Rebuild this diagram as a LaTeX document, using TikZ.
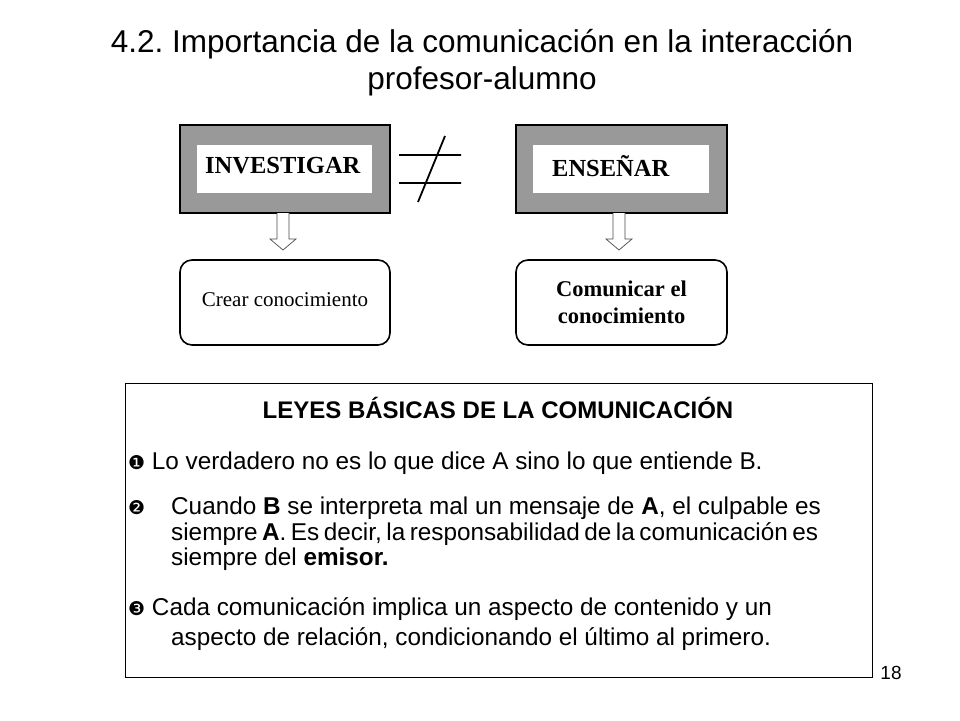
\documentclass[tikz,border=0pt]{standalone}
\usepackage{fontspec}
\setmainfont{Liberation Sans}
\newfontfamily\tnr{Liberation Serif}
\newfontfamily\dv{DejaVu Sans}
\frenchspacing
\begin{document}
\begin{tikzpicture}[x=1pt,y=-1pt,
  outer/.style={draw=black,line width=2.2pt,fill=black!40},
  inner/.style={fill=white},
  rbox/.style={draw=black,line width=1.6pt,rounded corners=12pt},
  hollow/.style={draw=black!70,line width=0.7pt,fill=white},
  lbl/.style={inner sep=0pt,anchor=base west}]
\useasboundingbox (0,0) rectangle (960,720);
\node[align=center,font=\fontsize{31.5}{37}\selectfont] (title) at (482,63) {4.2. Importancia de la comunicación en la interacción\\profesor-alumno};
% boxes
\node[outer,minimum width=210,minimum height=88,inner sep=0] (inv) at (285,169) {};
\node[inner,minimum width=175,minimum height=48,inner sep=0] (invi) at (284.5,169) {};
\node[anchor=west,font=\tnr\bfseries\fontsize{24.5}{28}\selectfont,inner sep=0] (invt) at (205,166) {INVESTIGAR};
\node[outer,minimum width=211,minimum height=88,inner sep=0] (ens) at (621.5,169) {};
\node[inner,minimum width=176,minimum height=48,inner sep=0] (ensi) at (621,169) {};
\node[anchor=west,font=\tnr\bfseries\fontsize{24.5}{28}\selectfont,inner sep=0] (enst) at (552,166) {ENSEÑAR};
% not equal
\coordinate (n1) at (399,155); \coordinate (n2) at (461,155);
\coordinate (n3) at (399,183); \coordinate (n4) at (461,183);
\coordinate (n5) at (418,202); \coordinate (n6) at (445,136);
\draw[line width=1.8pt] (n1)--(n2) (n3)--(n4) (n5)--(n6);
% hollow arrows
\draw[hollow] (277,213)--(277,239)--(270,239)--(283,250)--(296,239)--(289,239)--(289,213);
\draw[hollow] (613,213)--(613,239)--(606,239)--(619,250)--(632,239)--(625,239)--(625,213);
% rounded boxes
\node[rbox,minimum width=210,minimum height=85,inner sep=0,font=\tnr\fontsize{21}{24}\selectfont] (crear) at (285,302.5) {\raisebox{6pt}{Crear conocimiento}};
\node[rbox,minimum width=211,minimum height=85,inner sep=0,align=center,font=\tnr\bfseries\fontsize{22.5}{27}\selectfont] (com) at (621.5,302.5) {Comunicar el\\conocimiento};
% laws box
\node[draw=black,line width=0.8pt,minimum width=747,minimum height=294,inner sep=0] (laws) at (498.5,530) {};
\node[font=\bfseries\fontsize{24}{28}\selectfont,inner sep=0] (head) at (498,408) {LEYES BÁSICAS DE LA COMUNICACIÓN};
\begin{scope}[font=\fontsize{24.3}{28}\selectfont]
\node[lbl] (l1) at (128,469) {{\dv\fontsize{19}{22}\selectfont ❶} Lo verdadero no es lo que dice A sino lo que entiende B.};
\node[lbl] (b2) at (128,514) {\dv\fontsize{19}{22}\selectfont ❷};
\node[lbl] (l2a) at (171,514) {Cuando \textbf{B} se interpreta mal un mensaje de \textbf{A}, el culpable es};
\node[lbl] (l2b) at (171,540) {\makebox[611pt][s]{siempre \textbf{A}. Es decir, la responsabilidad de la comunicación es}};
\node[lbl] (l2c) at (171,565) {siempre del \textbf{emisor.}};
\node[lbl] (l3a) at (128,615) {{\dv\fontsize{19}{22}\selectfont ❸} Cada comunicación implica un aspecto de contenido y un};
\node[lbl] (l3b) at (171,645) {aspecto de relación, condicionando el último al primero.};
\end{scope}
\node[font=\fontsize{19}{22}\selectfont] (pg) at (891,673) {18};
\end{tikzpicture}
\end{document}
